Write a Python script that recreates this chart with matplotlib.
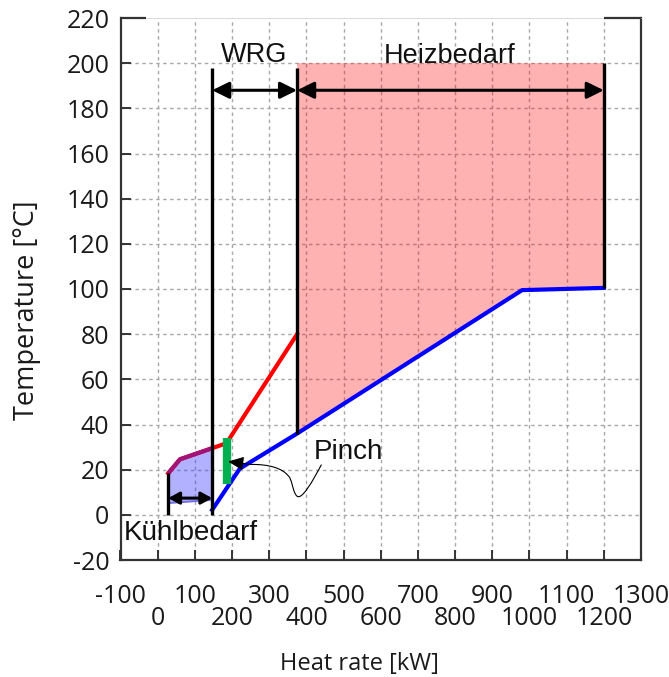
import matplotlib
matplotlib.use('Agg')
import matplotlib.pyplot as plt
from matplotlib.path import Path
from matplotlib.patches import FancyArrowPatch
from matplotlib.ticker import FixedLocator

# ---------------- data ----------------
hot_x = [28.5, 60, 185, 375]          # hot composite curve
hot_y = [18.4, 24.6, 31.7, 80]
cold_x = [146.6, 221, 375, 980, 1200]  # cold composite curve
cold_y = [2.2, 20.5, 36, 99.5, 100.5]
heiz_x = [375, 1200, 1200, 980, 375]   # heating demand region
heiz_y = [200, 200, 100.5, 99.5, 36]
kuehl_x = [28.5, 60, 146.6, 146.6, 28.5]  # cooling demand region
kuehl_y = [18.4, 24.6, 29.5, 6.6, 5.2]
pinch_x = 187.4
pinch_y = [13.6, 34.2]
vlines = [(28.5, 0, 18.4), (146.6, 0, 198), (375, 36, 198), (1200, 100.5, 200)]
arrows = [(146.6, 375, 188), (375, 1200, 188)]
kuehl_arrow = (28.5, 146.6, 7.4)
labels = [("WRG", 260, 200.5), ("Heizbedarf", 785, 200)]
pinch_label = ("Pinch", 513, 24.6)
kuehl_label = ("Kühlbedarf", 89, -11)

xticks_odd = list(range(-100, 1301, 200))
xticks_even = list(range(0, 1201, 200))
yticks = list(range(-20, 221, 20))

# ---------------- figure ----------------
W, H = 669, 677
fig = plt.figure(figsize=(W / 100, H / 100), dpi=100)
ax = fig.add_axes([120.5 / W, 1 - 560 / H, (641 - 120.5) / W, (560 - 18) / H])
ax.set_xlim(-100, 1300)
ax.set_ylim(-20, 220)

tickfont = 'Open Sans'
annfont = 'Liberation Sans'
tfs = 18

# ticks
ax.xaxis.set_major_locator(FixedLocator(xticks_even))
ax.xaxis.set_minor_locator(FixedLocator(xticks_odd))
ax.set_xticklabels([str(v) for v in xticks_even], fontfamily=tickfont, fontsize=tfs)
ax.set_xticklabels([str(v) for v in xticks_odd], minor=True, fontfamily=tickfont, fontsize=tfs)
ax.set_yticks(yticks)
ax.set_yticklabels([str(v) for v in yticks], fontfamily=tickfont, fontsize=tfs)
ax.tick_params(axis='x', which='major', direction='in', length=7, width=1.4, color='#333333', pad=33, labelcolor='#1a1a1a')
ax.tick_params(axis='x', which='minor', direction='in', length=7, width=1.4, color='#333333', pad=17, labelcolor='#1a1a1a')
ax.tick_params(axis='y', which='major', direction='in', length=7, width=1.4, color='#333333', pad=8, labelcolor='#1a1a1a')
ax.tick_params(top=False, right=False)

# grid
grid_kw = dict(color='#a8a8a8', linewidth=1.0, linestyle=(0, (2.5, 2.5)))
ax.grid(True, which='both', axis='x', **grid_kw)
ax.grid(True, which='major', axis='y', **grid_kw)
ax.set_axisbelow(True)
for t in ax.yaxis.get_major_ticks():
    if t.get_loc() in (yticks[0], yticks[-1]):
        t.gridline.set_visible(False)

# spines
for s in ('left', 'right', 'bottom'):
    ax.spines[s].set_color('#333333')
    ax.spines[s].set_linewidth(1.6)
ax.spines['top'].set_color('#cccccc')
ax.spines['top'].set_linewidth(0.5)
ax.plot([-100, -32], [220, 220], color='#333333', lw=1.6, clip_on=False, zorder=5, solid_capstyle='butt')
ax.plot([1200, 1300], [220, 220], color='#333333', lw=1.6, clip_on=False, zorder=5, solid_capstyle='butt')

# fills and curves
ax.fill(heiz_x, heiz_y, color='#ff0000', alpha=0.3, lw=0, zorder=1)
ax.fill(kuehl_x, kuehl_y, color='#3c3cff', alpha=0.4, lw=0, zorder=1.5)
ax.plot(kuehl_x[3:], kuehl_y[3:], color='#7070e8', lw=1.4, zorder=2)
ax.plot(hot_x, hot_y, color='#ff0000', lw=3, zorder=3, solid_joinstyle='round')
ax.plot(kuehl_x[:3], kuehl_y[:3], color='#a0147a', lw=3, zorder=3.2, solid_joinstyle='round',
        solid_capstyle='butt')
ax.plot(cold_x, cold_y, color='#0000ff', lw=3, zorder=3, solid_joinstyle='round')

# vertical black lines
for x, y0, y1 in vlines:
    ax.plot([x, x], [y0, y1], color='black', lw=2.4, zorder=6, solid_capstyle='butt')

# pinch bar
ax.plot([pinch_x, pinch_x], pinch_y, color='#00b050', lw=6, zorder=7, solid_capstyle='butt')

# double arrows
for x0, x1, y in arrows:
    ax.annotate('', xy=(x1, y), xytext=(x0, y),
                arrowprops=dict(arrowstyle='<|-|>,head_length=0.85,head_width=0.42', mutation_scale=12,
                                lw=2.2, color='black', shrinkA=0, shrinkB=0), zorder=8)
x0, x1, y = kuehl_arrow
ax.annotate('', xy=(x1, y), xytext=(x0, y),
            arrowprops=dict(arrowstyle='<|-|>,head_length=0.6,head_width=0.33', mutation_scale=11,
                            lw=2.2, color='black', shrinkA=0, shrinkB=0), zorder=8)

# pinch pointer (curvy line with arrowhead)
verts = [(440, 22.1), (420, 16), (385, 5), (372, 8.8),
         (362, 11), (362, 16), (350, 17.5),
         (335, 20.5), (300, 22.5), (250, 22.3),
         (189.5, 23.6)]
codes = [Path.MOVETO, Path.CURVE4, Path.CURVE4, Path.CURVE4,
         Path.CURVE4, Path.CURVE4, Path.CURVE4,
         Path.CURVE4, Path.CURVE4, Path.CURVE4,
         Path.LINETO]
pp = FancyArrowPatch(path=Path(verts, codes), arrowstyle='-|>,head_length=0.95,head_width=0.42',
                     mutation_scale=10, lw=0.8, color='black', zorder=8)
ax.add_patch(pp)

# texts
for txt, x, y in labels:
    ax.text(x, y, txt, ha='center', va='baseline', fontsize=19.5, fontfamily=annfont, color='#111111', zorder=9)
txt, x, y = pinch_label
ax.text(x, y, txt, ha='center', va='baseline', fontsize=20, fontfamily=annfont, color='#111111', zorder=9)
txt, x, y = kuehl_label
ax.text(x, y, txt, ha='center', va='baseline', fontsize=20, fontfamily=annfont, color='#111111', zorder=9)

# axis labels
fig.text(359 / W, 1 - 664 / H, 'Heat rate [kW]', ha='center', va='center', fontsize=17,
         fontfamily=tickfont, color='#1a1a1a')
fig.text(27 / W, 1 - 310 / H, 'Temperature [°C]', ha='center', va='center', rotation=90, fontsize=19.5,
         fontfamily=tickfont, color='#1a1a1a')

fig.savefig('out.png', dpi=100)
